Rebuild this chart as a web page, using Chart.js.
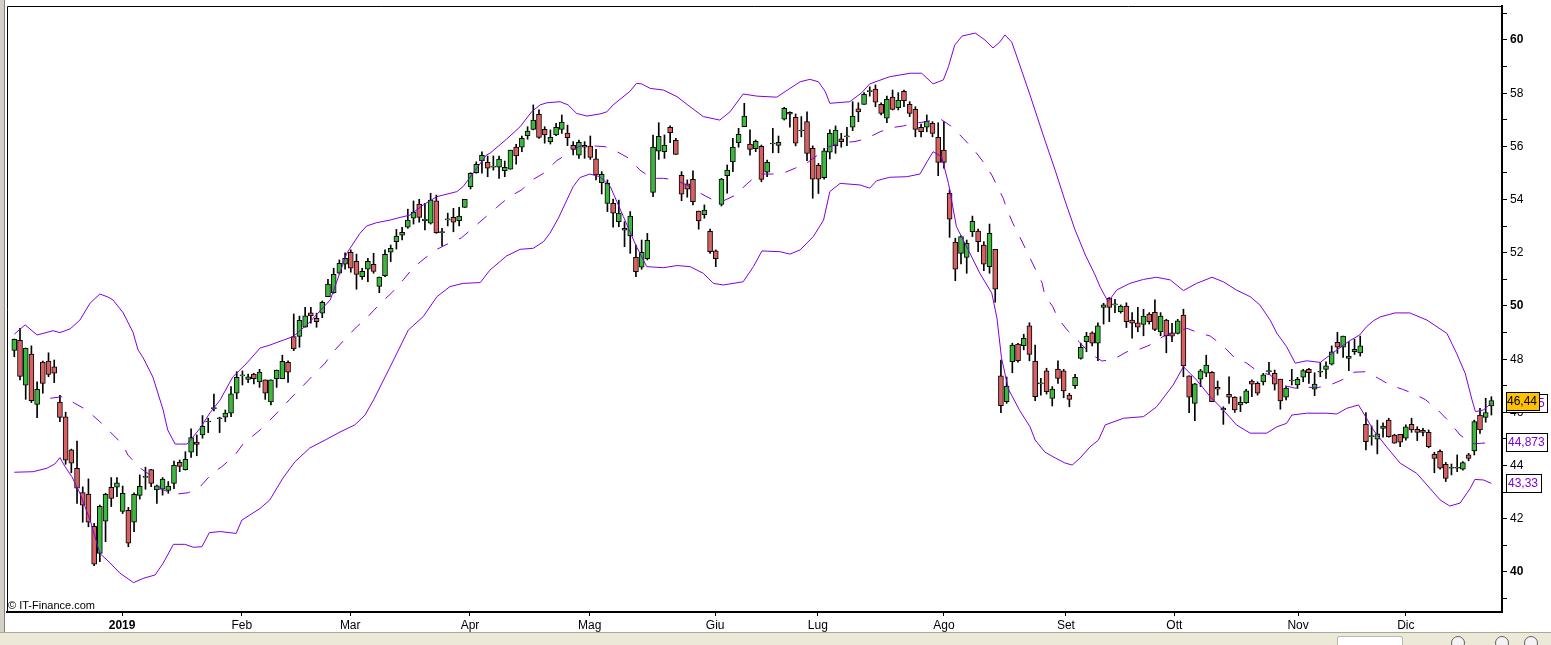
<!DOCTYPE html>
<html>
<head>
<meta charset="utf-8">
<script src="https://cdn.jsdelivr.net/npm/chart.js@4/dist/chart.umd.min.js"></script>
<style>
  html, body { margin: 0; padding: 0; background: #fff; overflow: hidden; }
  #wrap { position: relative; width: 1551px; height: 645px; }
  #c { position: absolute; left: 0; top: 0; }
  #frame { position: absolute; left: 0; top: 0; width: 4px; height: 632px; background: #d4d0c8; border-right: 1px solid #808080; }
  #toolbar { position: absolute; left: 0; top: 632px; width: 1551px; height: 13px; background: #ece9d8; border-top: 1px solid #aca899; }
  #toolbar .thumb { position: absolute; left: 1337px; top: 3px; width: 64px; height: 12px; background: #fff; border: 1px solid #b8b8b0; border-radius: 2px; }
  #toolbar .btn { position: absolute; top: 3px; width: 12px; height: 12px; border: 1px solid #606060; border-radius: 7px; background: #f4f4f4; }
</style>
</head>
<body>
<div id="wrap">
  <canvas id="c" width="1551" height="632"></canvas>
  <div id="frame"></div>
  <div id="toolbar">
    <div class="thumb"></div>
    <div class="btn" style="left:1451px"></div>
    <div class="btn" style="left:1495px"></div>
    <div class="btn" style="left:1524px"></div>
  </div>
</div>
<script>
// daily candles, one per trading session (index 0 = early Dec 2018)
const openP = [
  48.33,48.71,47.02,48.19,46.30,47.89,47.93,47.71,46.39,45.83,
  44.59,43.90,42.99,42.93,41.72,40.70,41.91,43.18,43.19,42.28,
  42.32,41.87,42.88,43.56,43.85,43.09,43.11,43.07,43.33,44.12,
  43.85,44.50,44.88,45.15,45.64,46.14,45.76,45.82,45.97,46.72,
  47.37,47.24,47.44,47.15,47.22,46.39,47.27,47.27,47.88,48.85,
  48.86,49.20,49.74,49.54,49.73,50.35,50.50,51.23,51.57,52.02,
  51.68,51.10,51.38,51.57,50.74,51.14,52.02,52.42,52.66,52.96,
  53.30,53.83,53.20,53.11,53.95,52.76,53.24,53.33,53.21,53.71,
  54.49,55.01,55.45,55.40,55.22,55.22,55.09,55.14,55.97,55.97,
  56.40,56.64,57.21,56.64,56.18,56.43,56.64,56.50,56.04,55.67,
  56.04,56.01,55.53,54.64,53.86,53.86,53.17,52.85,52.63,51.83,
  51.46,51.78,54.27,55.82,55.80,56.72,56.23,54.91,54.59,54.76,
  53.57,53.43,52.81,52.07,53.82,54.90,55.42,56.14,56.74,56.09,
  55.91,56.00,55.03,56.09,56.04,57.02,57.28,57.09,56.58,56.93,
  55.93,55.29,54.82,55.78,56.02,56.28,56.36,56.72,57.41,57.58,
  58.06,58.15,57.58,57.06,57.85,57.46,58.07,57.58,57.39,56.72,
  56.72,56.87,56.34,55.86,54.24,52.40,51.98,51.83,52.79,52.82,
  52.29,51.48,52.13,47.37,46.40,47.91,48.57,48.51,49.25,47.93,
  47.07,47.56,46.53,47.63,47.56,46.65,47.00,48.03,48.66,48.99,
  48.60,49.95,50.29,50.04,49.79,50.00,49.47,49.37,49.31,49.70,
  49.76,49.03,49.47,48.99,48.97,49.66,47.37,46.34,47.25,47.47,
  47.51,46.94,46.09,46.68,46.58,46.28,46.37,47.18,47.09,47.15,
  47.53,47.47,47.25,46.57,47.18,47.03,47.32,47.62,46.87,47.51,
  47.62,47.81,48.63,48.45,48.03,48.28,48.24,45.55,45.09,44.99,
  45.40,45.71,45.15,45.18,45.03,45.55,45.36,45.33,45.25,44.42,
  44.54,44.05,43.90,43.90,43.87,44.40,44.55,45.90,45.81,46.24
];
const highP = [
  48.76,49.16,48.42,48.50,47.15,47.93,48.24,47.97,46.64,46.01,
  44.62,44.92,43.20,43.50,41.83,42.52,42.96,43.55,43.55,43.23,
  42.43,42.98,43.65,43.94,43.86,43.27,43.55,43.40,44.17,44.21,
  44.52,45.38,45.15,45.88,45.78,46.69,45.82,46.09,46.97,47.53,
  47.56,47.44,47.47,47.62,47.22,47.22,47.59,48.15,47.94,49.70,
  49.62,49.95,49.95,49.73,50.19,51.00,51.42,51.73,52.00,52.11,
  51.95,51.42,51.79,51.98,51.09,52.11,52.29,52.88,52.96,53.64,
  53.95,54.01,53.86,54.24,54.17,52.92,53.49,53.67,53.71,54.01,
  55.01,55.42,55.80,55.64,55.64,55.64,55.45,55.86,56.08,56.39,
  56.74,57.56,57.37,56.74,56.62,56.87,57.18,56.80,56.18,56.24,
  56.18,56.39,55.89,55.05,54.74,54.02,53.98,53.17,53.55,52.29,
  52.48,52.73,56.43,56.89,56.43,56.77,56.30,55.05,54.74,55.08,
  53.57,53.80,52.89,52.11,54.80,55.30,56.30,56.68,57.62,56.62,
  56.24,56.05,55.49,56.68,56.39,57.47,57.30,57.22,57.12,57.30,
  56.02,55.36,55.93,56.62,56.77,56.49,56.72,57.68,57.64,58.02,
  58.24,58.31,57.64,57.89,58.12,58.02,58.12,57.68,57.49,56.84,
  57.18,56.93,56.89,56.93,54.36,52.55,52.64,52.48,53.38,52.89,
  52.42,53.08,52.13,47.97,47.33,48.60,48.60,48.94,49.37,48.53,
  47.28,47.66,46.97,47.94,47.62,46.72,47.43,48.60,49.01,49.03,
  49.37,50.10,50.32,50.25,50.04,50.12,49.75,49.95,49.88,49.75,
  50.23,49.75,49.50,49.35,49.50,49.88,47.37,47.09,47.62,48.15,
  47.53,47.18,46.21,47.34,46.59,46.59,46.87,47.22,47.15,47.47,
  47.88,47.59,47.25,46.97,47.62,47.32,47.62,47.66,47.49,47.87,
  47.90,48.50,49.01,48.87,48.66,48.75,48.87,45.99,45.49,45.71,
  45.61,45.78,45.18,45.18,45.53,45.78,45.46,45.40,45.34,44.50,
  44.59,44.12,44.06,44.40,44.15,44.46,45.71,46.15,46.53,46.59
];
const lowP = [
  48.09,47.22,46.49,46.37,45.80,46.72,47.34,47.12,45.65,44.05,
  43.73,42.58,41.87,41.70,40.24,40.39,41.14,42.46,42.83,42.20,
  40.95,41.52,42.74,43.11,43.21,42.58,42.89,42.96,43.13,43.77,
  43.83,44.31,44.37,45.03,45.24,46.06,45.24,45.65,45.84,46.51,
  47.03,47.12,47.07,46.94,46.49,46.28,46.94,47.27,47.13,48.32,
  48.45,49.20,49.35,49.20,49.56,50.35,50.48,51.20,51.38,51.27,
  50.63,51.00,50.91,51.23,50.50,51.10,51.67,52.14,52.48,52.92,
  53.08,53.15,52.86,53.08,52.73,52.26,53.01,52.79,53.01,53.71,
  54.40,54.99,54.99,54.86,55.11,54.80,54.86,55.14,55.33,55.80,
  56.27,56.62,56.30,56.12,56.09,56.40,56.49,56.03,55.68,55.55,
  55.55,55.51,54.74,54.21,53.55,52.96,52.98,52.23,51.98,51.10,
  51.38,51.73,54.11,55.51,55.55,56.14,55.70,53.96,54.09,53.80,
  52.89,53.30,51.98,51.48,53.76,54.24,55.05,55.97,56.74,55.67,
  55.80,54.67,54.86,55.76,55.76,56.99,56.72,56.02,56.36,55.46,
  54.05,54.23,54.77,55.53,55.74,55.97,56.03,56.59,56.93,57.58,
  57.89,57.49,57.18,56.89,57.37,57.37,57.49,57.12,56.36,56.36,
  56.55,56.36,54.90,55.18,52.58,50.95,51.58,51.23,52.61,52.04,
  51.33,51.23,50.14,45.99,46.34,47.49,47.89,48.35,47.94,46.44,
  46.65,46.69,46.24,47.09,46.55,46.21,46.90,48.00,48.28,48.50,
  47.94,49.32,49.41,49.75,49.73,49.19,48.79,49.03,48.88,49.32,
  49.07,48.88,48.24,48.66,48.95,47.34,45.99,45.69,46.97,47.34,
  46.40,46.65,45.55,46.34,46.00,46.03,46.34,46.59,46.65,47.03,
  47.43,46.84,46.12,46.47,47.03,46.90,47.15,47.09,46.63,47.34,
  47.28,47.78,48.22,48.07,47.57,48.18,48.12,44.59,44.77,44.44,
  45.07,45.07,44.84,44.71,44.96,45.25,44.94,45.12,44.67,43.73,
  43.87,43.40,43.65,43.77,43.83,44.18,44.40,45.21,45.63,45.90
];
const closeP = [
  48.75,47.35,48.41,46.44,46.87,47.09,47.43,47.47,45.81,44.20,
  44.09,43.15,42.51,41.87,40.29,42.47,42.92,42.77,43.35,42.96,
  41.08,42.92,43.22,43.56,43.33,43.24,43.49,43.23,44.01,43.97,
  44.24,45.05,44.80,45.48,45.64,46.14,45.76,45.97,46.70,47.32,
  47.37,47.34,47.27,47.52,46.72,47.22,47.59,47.92,47.51,48.39,
  49.46,49.63,49.63,49.41,50.14,50.82,51.19,51.60,51.79,51.42,
  51.19,51.30,51.68,51.30,51.09,51.94,52.17,52.63,52.77,53.23,
  53.53,53.33,53.27,53.98,52.76,52.76,53.24,53.15,53.38,54.01,
  54.99,55.33,55.66,55.18,55.22,55.52,55.21,55.86,55.64,56.30,
  56.58,56.99,56.34,56.43,56.34,56.72,56.91,56.33,55.89,56.15,
  55.97,55.59,54.93,54.95,54.61,53.49,53.49,52.92,53.38,51.29,
  52.02,52.47,55.97,56.38,56.05,56.52,55.70,54.20,54.39,53.92,
  53.20,53.61,52.04,51.78,54.77,55.11,55.97,56.45,57.14,55.89,
  56.19,54.76,55.40,56.09,56.15,57.43,57.21,56.12,56.58,55.74,
  54.77,54.77,55.83,56.49,56.61,56.18,56.36,57.14,57.30,57.96,
  58.06,57.66,57.24,57.77,57.39,57.73,57.72,57.24,56.64,56.55,
  56.94,56.49,55.40,55.40,53.26,51.38,52.61,52.36,53.18,52.42,
  51.57,52.73,50.63,46.25,46.99,48.53,47.94,48.78,48.18,46.59,
  47.07,46.78,46.88,47.28,46.81,46.49,47.32,48.45,48.87,48.60,
  49.25,50.04,49.95,50.04,50.00,49.41,49.35,49.20,49.62,49.41,
  49.12,49.62,48.88,48.87,49.44,47.75,46.57,47.07,47.56,47.78,
  46.40,46.87,46.16,46.57,46.09,46.38,46.81,47.06,46.72,47.41,
  47.53,47.06,46.43,46.91,47.18,47.24,47.57,47.49,47.06,47.51,
  47.75,48.28,48.45,48.87,48.12,48.37,48.50,44.90,45.09,45.19,
  45.49,45.09,44.84,44.88,45.46,45.34,45.25,45.25,44.71,44.27,
  43.90,43.52,43.90,43.90,44.11,44.27,45.65,45.34,45.99,46.44
];

// Bollinger bands: [session index, value]
const upperBand = [
  [0,48.94],[1.9,49.29],[4,48.91],[6.8,49.07],[8,49.00],[9.8,49.14],[11.5,49.47],[13.3,50.11],
  [15,50.45],[16.4,50.34],[17.3,50.23],[19.1,49.74],[20.8,49.02],[21.7,48.35],[22.6,48.05],
  [24.3,47.33],[26.1,46.09],[26.9,45.34],[28.2,44.81],[30.3,44.81],[31.2,45.04],[32.6,45.41],
  [34.3,45.98],[36.1,46.47],[38.3,47.33],[40.8,47.86],[43.1,48.42],[44.8,48.53],[47.2,48.72],
  [48.9,48.85],[51.6,49.35],[55.4,50.23],[58.3,51.98],[60.6,52.73],[61.8,53.01],[63.5,53.13],
  [65.9,53.23],[67.1,53.30],[69.4,53.42],[71.7,53.80],[74.1,54.11],[77.6,54.30],[78.7,54.49],
  [81.1,55.18],[82.8,55.68],[83.4,55.74],[86.3,56.27],[88.7,56.74],[90.7,57.30],[92.2,57.56],
  [93.4,57.64],[95.7,57.68],[97.1,57.56],[98.6,57.24],[100.4,57.14],[102.7,57.22],[103.9,57.30],
  [105,57.56],[107.9,58.06],[109.1,58.37],[110,58.35],[111.5,58.18],[113.8,58.12],[116.2,57.87],
  [118.5,57.49],[120.8,57.12],[123.7,56.99],[125.5,57.30],[127.8,57.97],[130.2,57.89],[133.7,57.85],
  [136,58.18],[137.8,58.43],[139.5,58.52],[141,58.43],[142.2,58.06],[143,57.62],[146.5,57.68],
  [148.6,58.02],[150,58.35],[153.5,58.62],[157.1,58.75],[159.1,58.75],[161.1,58.35],[162.9,58.50],
  [163.8,59.00],[164.9,59.81],[166.2,60.15],[168.5,60.26],[170.2,60.00],[171.6,59.70],[172.8,59.92],
  [173.7,60.19],[174.9,59.92],[176.3,59.06],[178.1,57.93],[180.7,56.24],[182.5,55.11],[184.2,53.98],
  [186,52.86],[187.8,51.92],[189.5,51.17],[190.4,50.71],[191.8,50.16],[193.3,50.60],[195.6,50.85],
  [198,51.00],[200.3,51.08],[202.7,50.98],[205,50.58],[207.3,50.85],[210,51.08],[212,50.91],
  [214.3,50.60],[216.7,50.35],[218.4,50.04],[220.2,49.47],[221.4,48.97],[223.1,48.47],[224.6,47.85],
  [226.6,47.94],[229,47.88],[231.9,48.35],[234.2,48.70],[235.9,48.91],[237.1,49.22],[238.3,49.44],
  [239.5,49.59],[242.1,49.74],[244.7,49.74],[247.7,49.47],[251.2,48.97],[252.9,48.22],[254.4,47.47],
  [255.6,46.47],[256.2,46.03],[257.6,46.09],[259,46.345]
];
const midBand = [
  [6.3,46.53],[8.4,46.59],[10.6,46.34],[12.7,46.09],[15,45.65],[16.8,45.27],[19.1,44.77],[19.9,44.40],
  [22,43.92],[23.8,43.65],[25.5,43.14],[28.2,42.92],[30.5,42.98],[32.6,43.21],[34.7,43.71],[36.4,43.96],
  [38.7,44.40],[40.1,44.81],[43.1,45.34],[45.7,45.90],[48.3,46.49],[50.4,46.95],[52.1,47.33],[54.5,47.85],
  [55.9,48.27],[58,48.76],[60,49.21],[62,49.60],[64.1,50.08],[66.2,50.50],[68.2,50.98],[69.9,51.43],
  [72,51.80],[74.2,52.14],[76.4,52.38],[78.4,52.56],[80.4,52.93],[82.5,53.32],[84.6,53.71],[86.7,54.09],
  [88.9,54.36],[91,54.76],[92.8,54.99],[95.1,55.46],[97.1,55.74],[99.2,56.02],[101.5,56.02],[103.6,55.99],
  [105.7,55.80],[107.8,55.55],[109.7,55.11],[111.8,54.80],[113.8,54.80],[115.9,54.74],[117.9,54.55],
  [120.1,54.26],[122.3,54.01],[124.3,53.95],[126.5,54.17],[128.4,54.58],[130.5,54.96],[132.8,54.96],
  [134.8,54.99],[136.9,55.18],[139.2,55.41],[142.7,55.97],[144.8,56.14],[147.4,56.18],[149.5,56.30],
  [151.8,56.55],[153.8,56.70],[155.9,56.77],[157.9,56.87],[159.9,56.93],[162.2,57.06],[164.4,56.74],
  [166.4,56.30],[168.3,55.86],[169.9,55.42],[171.4,54.92],[172.4,54.49],[173.4,54.05],[174.1,53.61],
  [175.1,53.11],[176,52.73],[178.1,51.80],[180.2,50.88],[180.7,50.41],[182.1,49.97],[183,49.54],
  [184.6,49.10],[186.7,48.66],[188.6,48.22],[190.7,47.93],[192.8,48.00],[195.1,48.28],[197,48.35],
  [199.1,48.53],[201.4,48.85],[203.5,49.00],[205.6,49.16],[207.6,49.00],[209.7,48.87],[211.8,48.53],
  [213.9,48.07],[216.1,47.85],[218.1,47.53],[220.2,47.41],[222.2,47.03],[224.6,46.91],[226.6,46.94],
  [228.7,46.94],[230.7,47.03],[232.8,47.22],[234.9,47.51],[237,47.53],[239.2,47.28],[241.2,47.03],
  [243.4,46.87],[245.5,46.69],[247.5,46.47],[249.7,46.07],[251.6,45.65],[253.5,45.15],[255.8,44.82],
  [257.9,44.85],[259,44.873]
];
const lowerBand = [
  [0,43.75],[3.3,43.77],[5.7,43.90],[7.1,44.06],[8,44.30],[8.9,43.96],[10.1,43.58],[11.5,42.96],
  [13.3,41.95],[15,40.70],[16.8,40.34],[18.5,39.96],[20.9,39.60],[22.6,39.76],[24.7,39.89],[26.1,40.33],
  [27.9,41.04],[29.9,41.04],[31.4,40.93],[32.9,40.95],[34.2,41.48],[36.1,41.52],[38.9,41.45],[39.9,41.95],
  [43.1,42.39],[44.8,42.71],[47.1,43.53],[49.2,44.14],[51.8,44.66],[54.5,44.96],[57.1,45.26],[59.7,45.53],
  [61.5,45.90],[63,46.47],[66.5,47.97],[69.1,49.10],[71.7,49.60],[74.1,50.35],[76.4,50.73],[78.7,50.85],
  [81.7,50.88],[83.4,51.35],[86.3,51.88],[88.7,52.13],[91,52.17],[92.8,52.42],[93.9,52.73],[95.4,53.30],
  [96.9,53.99],[98,54.49],[99.2,54.83],[100.9,54.96],[102.7,54.86],[104.5,54.49],[106.8,53.36],[109.1,52.23],
  [110.9,51.48],[113.8,51.44],[116.2,51.52],[118.5,51.48],[120.8,51.23],[122.6,50.85],[124.3,50.79],
  [127.8,50.91],[129.6,51.48],[131.1,52.07],[134.3,52.04],[136,51.95],[137.8,52.11],[140.1,52.61],
  [141.9,53.23],[143,54.30],[144.8,54.61],[148.3,54.55],[150,54.43],[151.2,54.71],[153.5,54.84],
  [156.5,54.86],[158.8,54.96],[159.9,55.37],[161.1,55.80],[162.6,55.61],[163.8,54.61],[165.2,52.98],
  [167,52.23],[169.3,51.23],[171.4,50.48],[172.3,49.55],[173.1,48.05],[174.3,46.88],[176.3,46.07],
  [178.1,45.46],[179,44.96],[180.7,44.51],[182.5,44.29],[184.2,44.10],[185.5,44.02],[186.9,44.29],
  [188.6,44.70],[190.1,44.96],[191.3,45.53],[194.5,45.78],[198,45.84],[200.3,46.21],[203.2,47.03],
  [205,47.72],[207.3,47.22],[209.7,46.59],[212,46.09],[214.3,45.53],[216.7,45.22],[219.6,45.22],
  [221.4,45.46],[223.1,45.59],[224,45.90],[226.6,45.97],[230.1,45.97],[231.9,45.94],[233.6,46.15],
  [235.7,46.28],[237.1,45.78],[238.3,45.34],[240.6,44.71],[243,44.09],[245.9,43.71],[248.2,43.15],
  [250,42.71],[251.7,42.48],[253.5,42.59],[255.3,43.15],[256.1,43.48],[257.6,43.46],[259,43.33]
];

// axis labels
const monthPos = [18.9, 39.9, 58.9, 79.9, 100.9, 122.9, 140.9, 163.0, 184.4, 203.4, 225.1, 244.0];
const monthNames = ['2019', 'Feb', 'Mar', 'Apr', 'Mag', 'Giu', 'Lug', 'Ago', 'Set', 'Ott', 'Nov', 'Dic'];
const yTicks = [39,40,41,42,43,44,45,46,47,48,49,50,51,52,53,54,55,56,57,58,59,60,61];

const FONT = '"Liberation Sans", Arial, sans-serif';
const upColor = '#3cb93c';
const downColor = '#d86060';
const bandColor = '#8000d8';

const fmt = v => String(+v.toFixed(3)).replace('.', ',');

const overlay = {
  id: 'overlay',
  afterDraw(chart) {
    const { ctx, chartArea: a, scales: { y } } = chart;
    ctx.save();
    // top and left frame of the plot
    ctx.strokeStyle = '#000';
    ctx.lineWidth = 1;
    ctx.beginPath();
    ctx.moveTo(a.left + 0.5, a.bottom);
    ctx.lineTo(a.left + 0.5, a.top + 0.5);
    ctx.lineTo(a.right, a.top + 0.5);
    ctx.stroke();

    ctx.font = '11px ' + FONT;
    ctx.fillStyle = '#000';
    ctx.textBaseline = 'bottom';
    ctx.fillText('\u00a9 IT-Finance.com', a.left + 1, a.bottom - 1);

    // last value boxes on the price axis (close box drawn over the upper band box)
    const n = closeP.length - 1;
    const boxes = [
      { v: upperBand[upperBand.length - 1][1], bg: '#fff', fg: bandColor, pad: 2 },
      { v: closeP[n], bg: '#ffc000', fg: '#000', pad: 1 },
      { v: midBand[midBand.length - 1][1], bg: '#fff', fg: bandColor, pad: 2 },
      { v: lowerBand[lowerBand.length - 1][1], bg: '#fff', fg: bandColor, pad: 2 }
    ];
    ctx.font = '12px ' + FONT;
    ctx.textBaseline = 'middle';
    boxes.forEach(b => {
      const txt = fmt(b.v);
      const w = Math.ceil(ctx.measureText(txt).width) + b.pad * 2;
      const py = Math.round(y.getPixelForValue(b.v));
      const bx = a.right + 4;
      ctx.fillStyle = b.bg;
      ctx.fillRect(bx, py - 9, w, 18);
      ctx.strokeStyle = '#000';
      ctx.strokeRect(bx + 0.5, py - 8.5, w, 18);
      ctx.fillStyle = b.fg;
      ctx.fillText(txt, bx + b.pad, py + 1);
    });
    ctx.restore();
  }
};

new Chart(document.getElementById('c'), {
  type: 'bar',
  data: {
    datasets: [
      {
        type: 'line',
        data: upperBand.map(p => ({ x: p[0], y: p[1] })),
        borderColor: bandColor, borderWidth: 1, pointRadius: 0, tension: 0, order: 0
      },
      {
        type: 'line',
        data: midBand.map(p => ({ x: p[0], y: p[1] })),
        borderColor: bandColor, borderWidth: 1, borderDash: [12, 12], pointRadius: 0, tension: 0, order: 0
      },
      {
        type: 'line',
        data: lowerBand.map(p => ({ x: p[0], y: p[1] })),
        borderColor: bandColor, borderWidth: 1, pointRadius: 0, tension: 0, order: 0
      },
      {
        // candle bodies: open -> close
        data: openP.map((o, i) => ({ x: i, y: [o, closeP[i]] })),
        backgroundColor: c => closeP[c.dataIndex] >= openP[c.dataIndex] ? upColor : downColor,
        borderColor: '#000',
        borderWidth: 1,
        borderSkipped: false,
        barThickness: 5,
        minBarLength: 1,
        grouped: false,
        order: 1
      },
      {
        // wicks: low -> high
        data: openP.map((o, i) => ({ x: i, y: [lowP[i], highP[i]] })),
        backgroundColor: '#000',
        borderWidth: 0,
        barThickness: 1,
        grouped: false,
        order: 2
      }
    ]
  },
  options: {
    responsive: false,
    animation: false,
    events: [],
    layout: { padding: { top: 6, left: 7, right: 0, bottom: 0 } },
    plugins: { legend: { display: false }, tooltip: { enabled: false } },
    scales: {
      x: {
        type: 'linear',
        min: -1.28,
        max: 260.86,
        offset: false,
        grid: { drawOnChartArea: false, drawTicks: true, tickLength: 4, color: '#000', offset: false },
        border: { color: '#000', width: 2 },
        afterBuildTicks: s => { s.ticks = monthPos.map(v => ({ value: v })); },
        afterFit: s => { s.height = 20; s.paddingLeft = 0; s.paddingRight = 0; },
        ticks: {
          autoSkip: false,
          maxRotation: 0,
          padding: 2,
          color: '#000',
          font: c => ({ family: FONT, size: 12, weight: c.index === 0 ? 'bold' : 'normal' }),
          callback: (v, i) => monthNames[i]
        }
      },
      y: {
        type: 'linear',
        position: 'right',
        min: 38.496,
        max: 61.278,
        grid: { drawOnChartArea: false, drawTicks: true, tickLength: 5, color: '#000' },
        border: { color: '#000', width: 2 },
        afterBuildTicks: s => { s.ticks = yTicks.map(v => ({ value: v })); },
        afterFit: s => { s.width = 49; s.paddingTop = 0; s.paddingBottom = 0; },
        ticks: {
          padding: 3,
          color: '#000',
          font: c => ({ family: FONT, size: 12, weight: c.tick && c.tick.value % 10 === 0 ? 'bold' : 'normal' }),
          callback: v => (v % 2 === 0 ? String(v) : '')
        }
      }
    }
  },
  plugins: [overlay]
});
</script>
</body>
</html>
